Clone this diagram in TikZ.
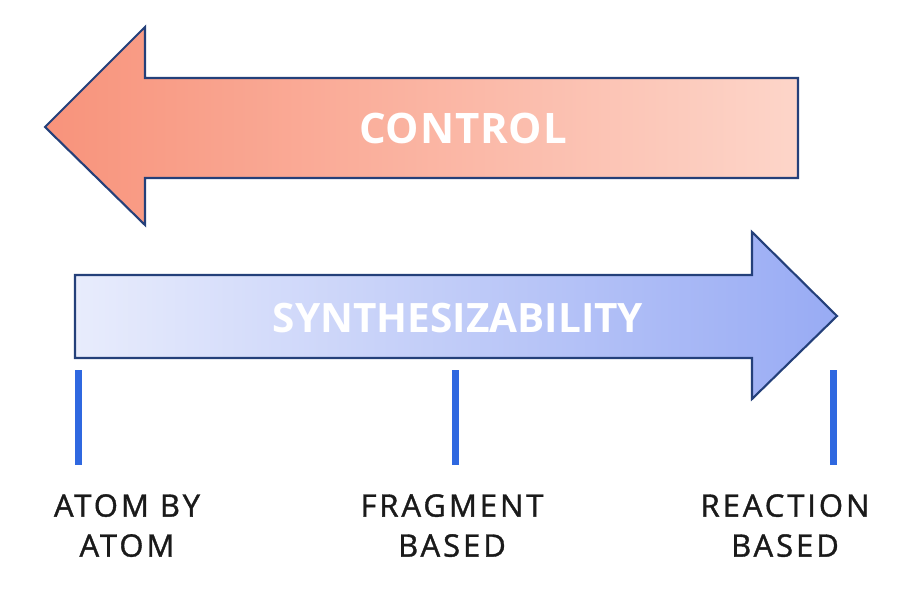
\documentclass[tikz,border=0pt]{standalone}
\usepackage{fontspec}
\setmainfont{Open Sans}
\newfontfamily\lblfont[LetterSpace=9.5,FakeBold=1.2]{Open Sans}
\newfontfamily\bigfont[LetterSpace=2]{Open Sans}
\newfontfamily\synfont[LetterSpace=0]{Open Sans}
\definecolor{navy}{HTML}{24407A}
\definecolor{ctrlL}{HTML}{F8937B}
\definecolor{ctrlR}{HTML}{FDD5C9}
\definecolor{synL}{HTML}{E8ECFC}
\definecolor{synR}{HTML}{98ABF4}
\definecolor{tick}{HTML}{2F68E0}
\definecolor{lbl}{HTML}{1A1A1A}
\begin{document}
\begin{tikzpicture}[x=1pt,y=-1pt,
  bigarrow/.style={draw=navy,line width=2.1pt,line join=miter},
  ticmark/.style={draw=tick,line width=7pt},
  title/.style={text=white,font=\bigfont\bfseries\fontsize{42}{48}\selectfont,inner sep=0pt},
  syntitle/.style={text=white,font=\synfont\bfseries\fontsize{40.5}{46}\selectfont,inner sep=0pt},
  lab/.style={text=lbl,font=\lblfont\fontsize{31}{40}\selectfont,align=center,inner sep=0pt,anchor=north}]
\useasboundingbox[fill=white] (0,0) rectangle (909,596);
% top arrow (control)
\path[bigarrow,left color=ctrlL,right color=ctrlR]
  (45,127) -- (145,27) -- (145,78) -- (798,78) -- (798,178) -- (145,178) -- (145,225) -- cycle;
\node[title] (ctrl) at (463,128) {CONTROL};
% bottom arrow (synthesizability)
\path[bigarrow,left color=synL,right color=synR]
  (75,275) -- (752,275) -- (752,232) -- (837,316) -- (752,399) -- (752,358) -- (75,358) -- cycle;
\node[syntitle] (syn) at (458,318) {SYNTHESIZABILITY};
% ticks
\coordinate (t1a) at (78,370); \coordinate (t1b) at (78,465);
\coordinate (t2a) at (455,370); \coordinate (t2b) at (455,465);
\coordinate (t3a) at (833,370); \coordinate (t3b) at (833,465);
\draw[ticmark] (t1a) -- (t1b);
\draw[ticmark] (t2a) -- (t2b);
\draw[ticmark] (t3a) -- (t3b);
% labels
\node[lab] (l1) at (127,494) {ATOM BY\\ATOM};
\node[lab] (l2) at (452,494) {FRAGMENT\\BASED};
\node[lab] (l3) at (785,494) {REACTION\\BASED};
\end{tikzpicture}
\end{document}
